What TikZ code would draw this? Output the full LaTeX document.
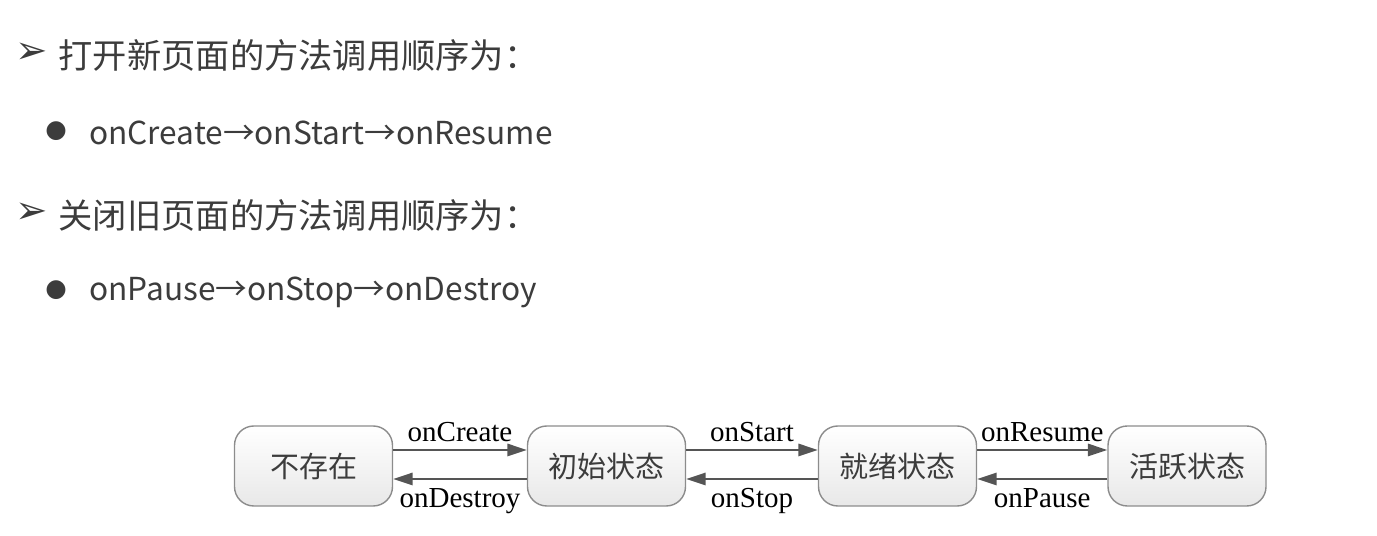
\documentclass[tikz,border=0pt]{standalone}
\usepackage{fontspec}
\setmainfont{Liberation Serif}
\newfontfamily\cjk{Noto Sans CJK SC}
\newfontfamily\sym{DejaVu Sans}
\usepackage{tikz}
\usetikzlibrary{arrows.meta}
\usepackage{xcolor}
\definecolor{txtgray}{HTML}{3C3C3C}
\definecolor{linegray}{HTML}{555555}
\definecolor{boxgray}{HTML}{8C8C8C}

\tikzset{
  state/.style={draw=boxgray, line width=0.8pt, rounded corners=11pt,
    minimum width=3.16cm, minimum height=1.6cm, top color=white,
    bottom color=gray!18, text=txtgray, font=\cjk\fontsize{16.5}{18}\selectfont},
  trans/.style={draw=linegray, line width=1.1pt,
    -{Triangle[length=11pt,width=7pt]}},
  lbl/.style={font=\fontsize{16.5}{18}\selectfont, text=black, inner sep=1pt},
  head/.style={anchor=west, text=txtgray, font=\cjk\fontsize{19.5}{22}\selectfont},
  item/.style={anchor=west, text=txtgray, font=\cjk\fontsize{18}{22}\selectfont},
  pointer/.style={text=txtgray, font=\sym\fontsize{22}{24}\selectfont},
  dot/.style={text=txtgray, font=\sym\fontsize{14}{16}\selectfont},
}

\begin{document}
\begin{tikzpicture}
\useasboundingbox (0,0) rectangle (27.54,10.72);

\node[pointer] (p1) at (0.64,9.66) {➢};
\node[head] (h1) at (1.05,9.62) {打开新页面的方法调用顺序为：};
\node[dot] (d1) at (1.12,8.1) {●};
\node[item] (i1) at (1.66,8.06) {onCreate→onStart→onResume};

\node[pointer] (p2) at (0.64,6.46) {➢};
\node[head] (h2) at (1.05,6.42) {关闭旧页面的方法调用顺序为：};
\node[dot] (d2) at (1.12,4.92) {●};
\node[item] (i2) at (1.66,4.88) {onPause→onStop→onDestroy};

\node[state] (none) at (6.27,1.4) {不存在};
\node[state] (init) at (12.13,1.4) {初始状态};
\node[state] (ready) at (17.95,1.4) {就绪状态};
\node[state] (active) at (23.74,1.4) {活跃状态};

\draw[trans] ([yshift=0.32cm]none.east) -- node[lbl, above=3pt] {onCreate} ([yshift=0.32cm]init.west);
\draw[trans] ([yshift=-0.26cm]init.west) -- node[lbl, below=4pt] {onDestroy} ([yshift=-0.26cm]none.east);
\draw[trans] ([yshift=0.32cm]init.east) -- node[lbl, above=3pt] {onStart} ([yshift=0.32cm]ready.west);
\draw[trans] ([yshift=-0.26cm]ready.west) -- node[lbl, below=4pt] {onStop} ([yshift=-0.26cm]init.east);
\draw[trans] ([yshift=0.32cm]ready.east) -- node[lbl, above=3pt] {onResume} ([yshift=0.32cm]active.west);
\draw[trans] ([yshift=-0.26cm]active.west) -- node[lbl, below=4pt] {onPause} ([yshift=-0.26cm]ready.east);
\end{tikzpicture}
\end{document}
